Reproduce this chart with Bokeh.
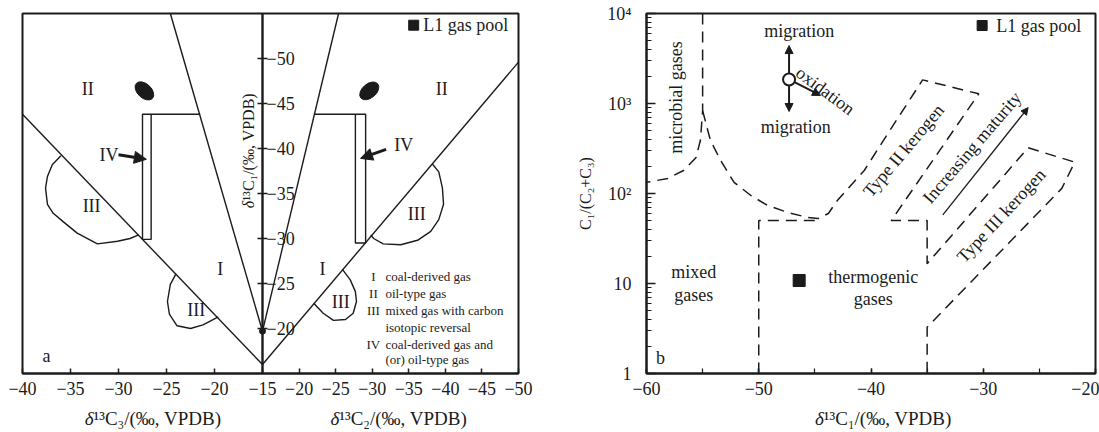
import numpy as np
from bokeh.plotting import figure
from bokeh.layouts import row, column
from bokeh.models import (Range1d, FixedTicker, LogTicker, SingleIntervalTicker,
                          CustomJSTickFormatter, Arrow, NormalHead)
from bokeh.core.properties import value
from bokeh.embed import file_html
from bokeh.resources import INLINE

FONT = "Liberation Serif"
INK = "#1b1b1b"
MINUS = "\u2212"

# ---------------- panel a: carbon isotope cross-plot ----------------
c3_ticks = [-40, -35, -30, -25, -20, -15]          # δ13C3 axis (left half)
c2_ticks = [-20, -25, -30, -35, -40, -45, -50]     # δ13C2 axis (right half)
c1_ticks = [-50, -45, -40, -35, -30, -25, -20]     # δ13C1 axis (centre)

# left half boundaries (x = δ13C3, y = δ13C1)
c3_steep_x = [-24.6, -15.0]
c3_steep_y = [-55.0, -19.7]
c3_diag_x = [-40.0, -15.0]
c3_diag_y = [-43.8, -16.0]
c3_box_x = [-21.5, -27.5, -27.5, -26.6, -26.6]
c3_box_y = [-43.8, -43.8, -29.9, -29.9, -43.8]
c3_loop_big_x = [-36.0, -36.9, -37.4, -37.6, -37.4, -36.8, -35.8, -34.3, -32.2, -30.1, -28.8, -27.9]
c3_loop_big_y = [-39.2, -38.2, -36.9, -35.6, -33.8, -32.8, -31.9, -30.6, -29.4, -29.7, -30.0, -30.4]
c3_loop_small_x = [-24.0, -24.6, -24.9, -24.7, -23.9, -22.5, -21.2, -19.6]
c3_loop_small_y = [-26.1, -24.9, -23.0, -21.6, -20.3, -20.0, -20.4, -21.3]
c3_pool_x = [-27.3]
c3_pool_y = [-46.4]

# right half boundaries (x = δ13C2, y = δ13C1)
c2_steep_x = [-25.4, -15.0]
c2_steep_y = [-55.0, -19.7]
c2_diag_x = [-15.0, -50.0]
c2_diag_y = [-16.0, -49.6]
c2_box_x = [-22.1, -29.1, -29.1, -27.7, -27.7]
c2_box_y = [-43.8, -43.8, -29.5, -29.5, -43.8]
c2_loop_big_x = [-38.2, -39.1, -39.6, -39.75, -39.1, -38.0, -36.2, -33.9, -31.5, -30.2, -29.8]
c2_loop_big_y = [-38.3, -37.4, -35.6, -33.8, -32.1, -30.8, -29.8, -29.3, -29.4, -30.0, -30.4]
c2_loop_small_x = [-25.9, -27.0, -27.7, -27.85, -27.4, -26.35, -24.7, -23.3, -22.0]
c2_loop_small_y = [-26.6, -25.4, -24.1, -23.0, -21.7, -21.0, -20.9, -21.7, -22.8]
c2_pool_x = [-29.6]
c2_pool_y = [-46.4]

legend_num = ["I", "II", "III", "", "IV", ""]
legend_txt = ["coal-derived gas", "oil-type gas", "mixed gas with carbon",
              "isotopic reversal", "coal-derived gas and", "(or) oil-type gas"]

# the two halves share one frame; δ13C2 is drawn on a compressed scale
K = (256 / 35) / (240 / 25)


def u_c3(x):
    return list(np.asarray(x, float))


def u_c2(x):
    return list(-15.0 + (-15.0 - np.asarray(x, float)) * K)


def fmt(v):
    return f"{MINUS}{abs(v)}" if v < 0 else str(v)


tick_pos = u_c3(c3_ticks) + u_c2(c2_ticks)
tick_lab = [fmt(v) for v in c3_ticks + c2_ticks]

common = dict(output_backend="svg", toolbar_location=None)

p1 = figure(width=560, height=405, x_range=Range1d(-40.0, u_c2([-50])[0]),
            y_range=Range1d(-15, -55), y_axis_location=None,
            min_border_left=22, min_border_right=42, min_border_top=13, min_border_bottom=32,
            **common)
p1.grid.visible = False
p1.outline_line_color = INK
p1.outline_line_width = 2

xa = p1.xaxis[0]
xa.ticker = FixedTicker(ticks=tick_pos)
xa.formatter = CustomJSTickFormatter(args=dict(pos=tick_pos, labs=tick_lab), code="""
    for (let i = 0; i < pos.length; i++) { if (Math.abs(pos[i] - tick) < 1e-6) return labs[i]; }
    return '';
""")
xa.major_tick_in = 5
xa.major_tick_out = 0
xa.minor_tick_line_color = None
xa.axis_line_width = 2
xa.axis_line_color = INK
xa.major_tick_line_color = INK
xa.major_tick_line_width = 1.5
xa.major_label_standoff = 8
xa.major_label_text_font = FONT
xa.major_label_text_font_size = "18px"
xa.major_label_text_color = INK

solid = dict(line_color=INK, line_width=1.4)
for xs, ys in [(c3_steep_x, c3_steep_y), (c3_diag_x, c3_diag_y), (c3_box_x, c3_box_y),
               (c3_loop_big_x, c3_loop_big_y), (c3_loop_small_x, c3_loop_small_y)]:
    p1.line(u_c3(xs), ys, **solid)
for xs, ys in [(c2_steep_x, c2_steep_y), (c2_diag_x, c2_diag_y), (c2_box_x, c2_box_y),
               (c2_loop_big_x, c2_loop_big_y), (c2_loop_small_x, c2_loop_small_y)]:
    p1.line(u_c2(xs), ys, **solid)

# L1 gas pool
p1.ellipse(x=u_c3(c3_pool_x), y=c3_pool_y, width=22, height=14, angle=-0.75,
           width_units="screen", height_units="screen", fill_color=INK, line_color=INK)
p1.ellipse(x=u_c2(c2_pool_x), y=c2_pool_y, width=22, height=14, angle=0.7,
           width_units="screen", height_units="screen", fill_color=INK, line_color=INK)

# central δ13C1 axis
p1.line([-15, -15], [-15, -55], line_color=INK, line_width=2.4)
p1.scatter([-15] * len(c1_ticks), c1_ticks, marker="dash", size=10, line_color=INK, line_width=1.5)
p1.text([-15] * len(c1_ticks), c1_ticks, text=[fmt(v) for v in c1_ticks], x_offset=4,
        text_align="left", text_baseline="middle", text_font=value(FONT),
        text_font_size="18px", text_color=INK)
p1.scatter([-15], [c3_steep_y[1]], size=6, color=INK)
rot = dict(angle=np.pi / 2, text_baseline="middle", text_font=value(FONT),
           text_font_size="16px", text_color=INK)
p1.text([-16.5], [-34.2], text=["δ"], text_align="right", text_font_style="italic", **rot)
p1.text([-16.5], [-34.2], text=["¹³C₁/(‰, VPDB)"], text_align="left", **rot)

txt = dict(text_font=value(FONT), text_color=INK, text_baseline="middle")
# zone numerals
p1.text(u_c3([-33.2, -31.0, -32.8, -21.9, -19.4]), [-46.6, -39.3, -33.6, -22.1, -26.6],
        text=["II", "IV", "III", "III", "I"], text_align="center", text_font_size="18px", **txt)
p1.text(u_c2([-39.5, -34.3, -36.1, -23.2, -25.7]), [-46.6, -40.4, -32.7, -26.6, -23.0],
        text=["II", "IV", "III", "I", "III"], text_align="center", text_font_size="18px", **txt)
p1.text([-37.5], [-16.9], text=["a"], text_align="center", text_font_size="18px", **txt)

head = dict(size=12, fill_color=INK, line_color=INK)
p1.add_layout(Arrow(end=NormalHead(**head), x_start=u_c3([-30.0])[0], y_start=-39.3,
                    x_end=u_c3([-27.1])[0], y_end=-38.8, line_width=3, line_color=INK))
p1.add_layout(Arrow(end=NormalHead(**head), x_start=u_c2([-31.9])[0], y_start=-39.9,
                    x_end=u_c2([-28.4])[0], y_end=-38.9, line_width=3, line_color=INK))

# legend
leg_y = [-25.8, -23.9, -22.0, -20.1, -18.2, -16.55]
p1.text([-3.45] * 6, leg_y, text=legend_num, text_align="center", text_font_size="13px", **txt)
p1.text([-2.2] * 6, leg_y, text=legend_txt, text_align="left", text_font_size="13px", **txt)
p1.scatter([0.75], [-53.7], marker="square", size=10, color=INK)
p1.text([1.75], [-53.7], text=["L1 gas pool"], text_align="left", text_font_size="18px", **txt)

# axis titles of panel a, one under each half
pa_lab = figure(width=560, height=27, x_range=p1.x_range, y_range=Range1d(0, 27),
                x_axis_location=None, y_axis_location=None,
                min_border_left=22, min_border_right=42, min_border_top=0, min_border_bottom=0,
                **common)
pa_lab.grid.visible = False
pa_lab.outline_line_color = None
lab = dict(y=[14], text_baseline="middle", text_font=value(FONT), text_font_size="19px",
           text_color=INK)
pa_lab.text(x=[-32.6], text=["δ"], text_align="right", text_font_style="italic", **lab)
pa_lab.text(x=[-32.6], text=["¹³C₃/(‰, VPDB)"], text_align="left", **lab)
pa_lab.text(x=[-7.0], text=["δ"], text_align="right", text_font_style="italic", **lab)
pa_lab.text(x=[-7.0], text=["¹³C₂/(‰, VPDB)"], text_align="left", **lab)

# ---------------- panel b: Bernard diagram ----------------
ratio_ticks = [1, 10, 100, 1000, 10000]
ratio_labels = ["1", "10", "10²", "10³", "10⁴"]

microbial_x = [-55.0, -55.0, -55.2, -55.6, -56.7, -58.1, -60.0]
microbial_y = [10000, 830, 388, 250, 180, 147, 133]
mixed_x = [-50.0, -50.0, -44.7]
mixed_y = [1, 50, 50]
thermo_x = [-55.0, -54.3, -53.4, -52.2, -50.7, -49.2, -47.4, -45.6, -44.7, -43.8, -43.0,
            -41.8, -40.6, -38.5, -35.4]
thermo_y = [830, 388, 233, 133, 95, 73.5, 61.5, 54, 52.7, 60, 83.6, 123, 180, 464, 1830]
kerogen2_x = [-35.4, -30.4, -38.2, -35.0, -35.0]
kerogen2_y = [1830, 1280, 50, 50, 16.6]
kerogen3_x = [-35.0, -26.0, -21.85, -23.0, -35.0, -35.0]
kerogen3_y = [16.6, 322, 223, 114, 3.27, 1]
pool_b_x = [-46.4]
pool_b_y = [10.8]

p2 = figure(width=539, height=405, x_range=Range1d(-60, -20), y_range=Range1d(1, 10000),
            y_axis_type="log",
            min_border_left=86, min_border_right=4, min_border_top=13, min_border_bottom=32,
            **common)
p2.grid.visible = False
p2.outline_line_color = INK
p2.outline_line_width = 2

p2.xaxis.ticker = SingleIntervalTicker(interval=10, num_minor_ticks=2)
p2.xaxis.formatter = CustomJSTickFormatter(
    code="return tick < 0 ? '\u2212' + Math.abs(tick) : String(tick);")
p2.yaxis.ticker = LogTicker(num_minor_ticks=10)
p2.yaxis.formatter = CustomJSTickFormatter(args=dict(vals=ratio_ticks, labs=ratio_labels), code="""
    for (let i = 0; i < vals.length; i++) {
        if (Math.abs(Math.log10(tick) - Math.log10(vals[i])) < 1e-6) return labs[i];
    }
    return '';
""")
p2.yaxis.axis_label = "C₁/(C₂+C₃)"
for ax in (p2.xaxis[0], p2.yaxis[0]):
    ax.axis_line_width = 2
    ax.axis_line_color = INK
    ax.major_tick_line_color = INK
    ax.minor_tick_line_color = INK
    ax.major_tick_line_width = 1.5
    ax.minor_tick_line_width = 1.2
    ax.major_tick_out = 0
    ax.minor_tick_out = 0
    ax.major_label_text_font = FONT
    ax.major_label_text_font_size = "18px"
    ax.major_label_text_color = INK
    ax.axis_label_text_font = FONT
    ax.axis_label_text_font_size = "16px"
    ax.axis_label_text_font_style = "normal"
    ax.axis_label_text_color = INK
p2.xaxis.major_tick_in = 5
p2.xaxis.minor_tick_in = 5
p2.xaxis.major_label_standoff = 8
p2.yaxis.major_tick_in = 9
p2.yaxis.minor_tick_in = 5
p2.yaxis.major_label_standoff = 15
p2.yaxis.axis_label_standoff = 10

dash = dict(line_color=INK, line_width=1.5, line_dash="11 7")
p2.line(microbial_x, microbial_y, **dash)
p2.line(mixed_x, mixed_y, **dash)
p2.line(thermo_x + kerogen2_x[1:] + kerogen3_x[1:], thermo_y + kerogen2_y[1:] + kerogen3_y[1:], **dash)

p2.scatter(pool_b_x, pool_b_y, marker="square", size=12, color=INK)

# migration / oxidation symbol
for xe, ye in [(-47.3, 4400), (-47.3, 815), (-44.5, 1230)]:
    p2.add_layout(Arrow(end=NormalHead(size=8, fill_color=INK, line_color=INK),
                        x_start=-47.3, y_start=1850, x_end=xe, y_end=ye,
                        line_width=2, line_color=INK, level="underlay"))
p2.scatter([-47.3], [1850], size=12, fill_color="white", line_color=INK, line_width=2)

p2.add_layout(Arrow(end=NormalHead(size=7, fill_color=INK, line_color=INK),
                    x_start=-33.6, y_start=58, x_end=-26.0, y_end=900,
                    line_width=1.3, line_color=INK))

t18 = dict(text_font=value(FONT), text_color=INK, text_baseline="middle",
           text_align="center", text_font_size="18px")
p2.text([-46.4, -46.7], [6470, 555], text=["migration", "migration"], **t18)
p2.text([-46.5], [2330], text=["oxidation"], angle=-0.64, **{**t18, "text_align": "left"})
p2.text([-57.4], [1166], text=["microbial gases"], angle=np.pi / 2, **t18)
p2.text([-55.8, -55.8], [13.3, 7.36], text=["mixed", "gases"], **t18)
p2.text([-39.8, -39.8], [11.7, 6.8], text=["thermogenic", "gases"], **t18)
p2.text([-37.1], [300], text=["Type II kerogen"], angle=0.87, **t18)
p2.text([-31.0], [324], text=["Increasing maturity"], angle=0.86, **t18)
p2.text([-28.4], [57], text=["Type III kerogen"], angle=0.82, **t18)
p2.text([-58.75], [1.5], text=["b"], **t18)
p2.scatter([-30.1], [7356], marker="square", size=10, color=INK)
p2.text([-28.85], [7356], text=["L1 gas pool"], **{**t18, "text_align": "left"})

pb_lab = figure(width=539, height=27, x_range=p2.x_range, y_range=Range1d(0, 27),
                x_axis_location=None, y_axis_location=None,
                min_border_left=86, min_border_right=4, min_border_top=0, min_border_bottom=0,
                **common)
pb_lab.grid.visible = False
pb_lab.outline_line_color = None
pb_lab.text(x=[-44.2], text=["δ"], text_align="right", text_font_style="italic", **lab)
pb_lab.text(x=[-44.2], text=["¹³C₁/(‰, VPDB)"], text_align="left", **lab)

layout = row(column(p1, pa_lab), column(p2, pb_lab))
open("out.html", "w").write(file_html(layout, INLINE))
